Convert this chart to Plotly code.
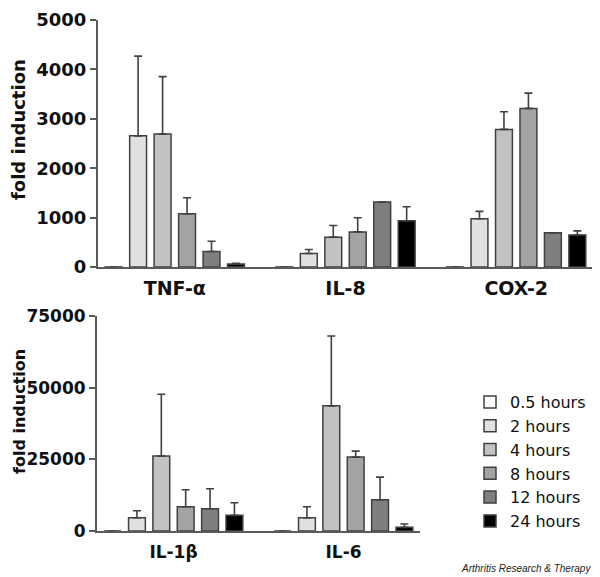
import plotly.graph_objects as go

# ---- data ----
series_names = ["0.5 hours", "2 hours", "4 hours", "8 hours", "12 hours", "24 hours"]
series_colors = ["#ffffff", "#e0e0e0", "#c2c2c2", "#a3a3a3", "#7f7f7f", "#000000"]

top_genes = ["TNF-α", "IL-8", "COX-2"]
bottom_genes = ["IL-1β", "IL-6"]

# fold induction per time point
top_values = {
    "TNF-α": [1, 2655, 2690, 1078, 313, 60],
    "IL-8":  [1, 272, 604, 711, 1315, 935],
    "COX-2": [1, 976, 2785, 3211, 691, 650],
}
top_errors = {
    "TNF-α": [None, 1613, 1164, 324, 209, 15],
    "IL-8":  [None, 82, 237, 285, None, 285],
    "COX-2": [None, 150, 359, 309, None, 82],
}
bottom_values = {
    "IL-1β": [1, 4644, 26123, 8476, 7779, 5457],
    "IL-6":  [1, 4644, 43654, 25774, 10913, 1277],
}
bottom_errors = {
    "IL-1β": [None, 2438, 21594, 5920, 6966, 4412],
    "IL-6":  [None, 3832, 24381, 2090, 7895, 1161],
}

top_ticks = [0, 1000, 2000, 3000, 4000, 5000]
top_ticklabels = ["0", "1000", "2000", "3000", "4000", "5000"]
bottom_ticks = [0, 25000, 50000, 75000]
bottom_ticklabels = ["0", "25000", "50000", "75000"]

# the page body has an 8px margin, so the figure is 8px smaller and offset
OFF = 8
W, H = 600 - OFF, 577 - OFF
fig = go.Figure()

line_col = "#404040"
for i, (name, col) in enumerate(zip(series_names, series_colors)):
    fig.add_trace(go.Bar(
        x=top_genes, y=[top_values[g][i] for g in top_genes],
        error_y=dict(type="data", symmetric=False,
                     array=[top_errors[g][i] for g in top_genes],
                     arrayminus=[0] * len(top_genes),
                     color=line_col, thickness=1.6, width=4),
        marker=dict(color=col, line=dict(color=line_col, width=1.5)),
        name=name, legendgroup=name, showlegend=True,
        xaxis="x", yaxis="y"))
    fig.add_trace(go.Bar(
        x=bottom_genes, y=[bottom_values[g][i] for g in bottom_genes],
        error_y=dict(type="data", symmetric=False,
                     array=[bottom_errors[g][i] for g in bottom_genes],
                     arrayminus=[0] * len(bottom_genes),
                     color=line_col, thickness=1.6, width=4),
        marker=dict(color=col, line=dict(color=line_col, width=1.5)),
        name=name, legendgroup=name, showlegend=False,
        xaxis="x2", yaxis="y2"))

axcol = "#5a5a5a"
fontfam = "DejaVu Sans"

def px_x(p):
    return (p - OFF) / W

def px_y(p):
    return 1 - (p - OFF) / H

fig.update_layout(
    width=W, height=H,
    margin=dict(l=0, r=0, t=0, b=0, autoexpand=False),
    paper_bgcolor="white", plot_bgcolor="white",
    barmode="group", bargap=0.14, bargroupgap=0.31,
    font=dict(family=fontfam, color="#111111"),
    xaxis=dict(domain=[px_x(98), px_x(593)], anchor="y", automargin=False,
               type="category", range=[-0.45, 2.45],
               showline=True, linecolor=axcol, linewidth=2,
               ticks="", showgrid=False, zeroline=False,
               tickfont=dict(size=19, weight="bold", family=fontfam, color="#111"),
               ticklabelstandoff=3),
    yaxis=dict(domain=[px_y(267), px_y(20)], anchor="x", automargin=False,
               range=[0, 5000], tickvals=top_ticks, ticktext=top_ticklabels,
               showline=True, linecolor=axcol, linewidth=2,
               ticks="outside", ticklen=6, tickwidth=2, tickcolor=axcol,
               showgrid=False, zeroline=False,
               tickfont=dict(size=18, weight="bold", family=fontfam, color="#111")),
    xaxis2=dict(domain=[px_x(97), px_x(420)], anchor="y2", automargin=False,
                type="category", range=[-0.45, 1.45],
                showline=True, linecolor=axcol, linewidth=2,
                ticks="", showgrid=False, zeroline=False,
                tickfont=dict(size=17, weight="bold", family=fontfam, color="#111"),
                ticklabelstandoff=5),
    yaxis2=dict(domain=[px_y(531), px_y(316)], anchor="x2", automargin=False,
                range=[0, 75000], tickvals=bottom_ticks, ticktext=bottom_ticklabels,
                showline=True, linecolor=axcol, linewidth=2,
                ticks="outside", ticklen=6, tickwidth=2, tickcolor=axcol,
                showgrid=False, zeroline=False,
                tickfont=dict(size=17, weight="bold", family=fontfam, color="#111")),
    legend=dict(x=px_x(470), y=px_y(385), xanchor="left", yanchor="top",
                font=dict(size=16, family=fontfam, color="#111"),
                bgcolor="rgba(0,0,0,0)", tracegroupgap=0, itemwidth=30),
    annotations=[
        dict(text="<b>fold induction</b>", x=px_x(18), y=px_y(130),
             xref="paper", yref="paper", textangle=-90, showarrow=False,
             xanchor="center", yanchor="middle",
             font=dict(size=18, family=fontfam, color="#111")),
        dict(text="<b>fold induction</b>", x=px_x(19), y=px_y(412),
             xref="paper", yref="paper", textangle=-90, showarrow=False,
             xanchor="center", yanchor="middle",
             font=dict(size=16, family=fontfam, color="#111")),
        dict(text="<i>Arthritis Research &amp; Therapy</i>", x=px_x(593), y=px_y(568),
             xref="paper", yref="paper", xanchor="right", yanchor="middle",
             showarrow=False,
             font=dict(size=10, family="Liberation Sans", color="#222")),
    ],
)

fig.write_html("out.html")
